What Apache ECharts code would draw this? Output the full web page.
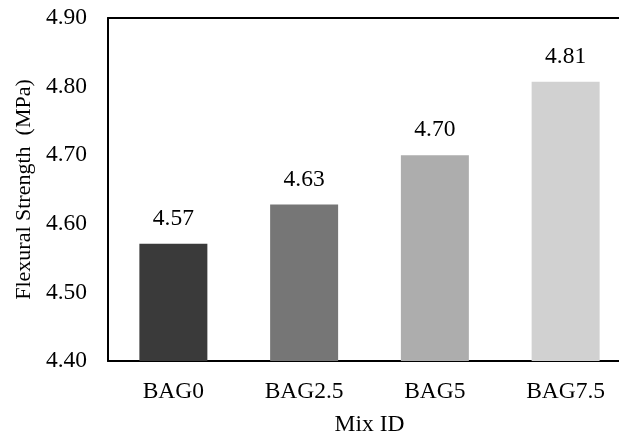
<!DOCTYPE html>
<html>
<head>
<meta charset="utf-8">
<script src="https://cdn.jsdelivr.net/npm/echarts@6/dist/echarts.min.js"></script>
<style>html,body{margin:0;padding:0;background:#fff;}#c{width:619px;height:436px;}</style>
</head>
<body>
<div id="c"></div>
<script>
var categories = ['BAG0', 'BAG2.5', 'BAG5', 'BAG7.5'];
var strengthValues = [4.571, 4.628, 4.700, 4.807];
var barColors = ['#3a3a3a', '#767676', '#adadad', '#d1d1d1'];
var yTicks = [4.40, 4.50, 4.60, 4.70, 4.80, 4.90];

var FONT = '"Liberation Serif", "Times New Roman", serif';
var FS = 23.5;
var chart = echarts.init(document.getElementById('c'), null, {renderer: 'canvas'});
chart.setOption({
  animation: false,
  backgroundColor: '#fff',
  textStyle: {fontFamily: FONT},
  grid: {left: 108, top: 18, width: 523, height: 343, containLabel: false, outerBoundsMode: 'none'},
  xAxis: [{
    type: 'category',
    data: categories,
    position: 'bottom',
    name: 'Mix ID',
    nameLocation: 'middle',
    nameGap: 52,
    nameTextStyle: {fontFamily: FONT, fontSize: FS, color: '#000'},
    axisLine: {show: true, lineStyle: {color: '#000', width: 2}},
    axisTick: {show: false},
    axisLabel: {fontFamily: FONT, fontSize: FS, color: '#000', margin: 19}
  }, {
    type: 'category',
    data: categories,
    position: 'top',
    axisLine: {show: true, lineStyle: {color: '#000', width: 2}},
    axisTick: {show: false},
    axisLabel: {show: false}
  }],
  yAxis: {
    type: 'value',
    min: yTicks[0],
    max: yTicks[yTicks.length - 1],
    interval: 0.1,
    name: 'Flexural Strength  (MPa)',
    nameLocation: 'middle',
    nameGap: 70,
    nameTextStyle: {fontFamily: FONT, fontSize: 22, color: '#000'},
    axisLine: {show: true, lineStyle: {color: '#000', width: 2}},
    axisTick: {show: false},
    splitLine: {show: false},
    axisLabel: {
      fontFamily: FONT, fontSize: FS, color: '#000', margin: 21,
      formatter: function (v) { return v.toFixed(2); }
    }
  },
  series: [{
    type: 'bar',
    xAxisIndex: 0,
    barWidth: '52%',
    data: strengthValues.map(function (v, i) {
      return {value: v, itemStyle: {color: barColors[i]}};
    }),
    label: {
      show: true,
      position: 'top',
      distance: 13,
      fontFamily: FONT,
      fontSize: FS,
      color: '#000',
      formatter: function (p) { return p.value.toFixed(2); }
    }
  }]
});
</script>
</body>
</html>
